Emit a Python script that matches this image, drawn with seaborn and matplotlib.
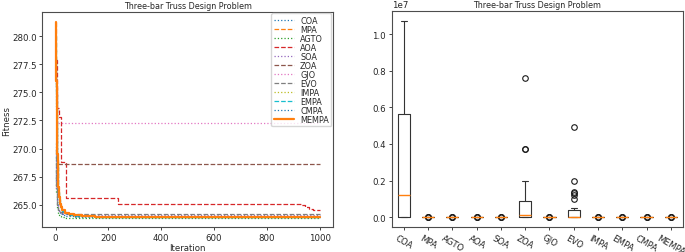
import numpy as np
import pandas as pd
import matplotlib
matplotlib.use("Agg")
import matplotlib.pyplot as plt
import seaborn as sns

# algorithm names (legend / box order)
algos = ["COA", "MPA", "AGTO", "AOA", "SOA", "ZOA", "GJO", "EVO",
         "IMPA", "EMPA", "CMPA", "MEMPA"]

# convergence curves (best fitness at given iterations)
it_fast = [0, 2, 4, 6, 8, 10, 13, 16, 20, 26, 35, 50, 70, 100, 150, 300, 1000]
coa_fit = [270.5, 267.0, 265.8, 265.2, 264.8, 264.6, 264.4, 264.3, 264.2, 264.1,
           264.02, 263.97, 263.94, 263.92, 263.91, 263.9, 263.9]
mpa_fit = [281.3, 275.5, 271.5, 269.0, 267.3, 266.4, 265.5, 265.0, 264.7, 264.45,
           264.25, 264.12, 264.03, 263.97, 263.93, 263.9, 263.89]
agto_fit = [268.0, 266.0, 265.2, 264.7, 264.4, 264.2, 264.05, 263.95, 263.9, 263.87,
            263.86, 263.86, 263.86, 263.86, 263.86, 263.86, 263.86]
soa_fit = [269.5, 266.5, 265.5, 265.0, 264.7, 264.55, 264.4, 264.32, 264.25, 264.2,
           264.17, 264.14, 264.12, 264.11, 264.1, 264.1, 264.1]
evo_fit = [270.0, 266.5, 265.4, 264.9, 264.7, 264.55, 264.45, 264.38, 264.32, 264.27,
           264.22, 264.18, 264.16, 264.15, 264.14, 264.14, 264.14]
impa_fit = [279.0, 274.0, 270.5, 268.5, 267.0, 266.1, 265.3, 264.9, 264.6, 264.4,
            264.22, 264.1, 264.02, 263.96, 263.92, 263.9, 263.89]
empa_fit = [280.0, 275.0, 271.0, 268.8, 267.2, 266.3, 265.4, 265.0, 264.65, 264.42,
            264.24, 264.11, 264.03, 263.97, 263.93, 263.9, 263.89]
cmpa_fit = [278.0, 273.5, 270.0, 268.2, 266.9, 266.0, 265.2, 264.85, 264.58, 264.38,
            264.2, 264.09, 264.01, 263.96, 263.92, 263.9, 263.89]
mempa_fit = [281.3, 276.0, 272.0, 269.5, 267.6, 266.6, 265.7, 265.1, 264.8, 264.5,
             264.3, 264.15, 264.05, 263.98, 263.93, 263.9, 263.88]

aoa_it = [0, 7, 14, 22, 40, 236, 930, 945, 960, 975, 1000]
aoa_fit = [277.9, 273.6, 272.8, 268.8, 265.6, 265.05, 264.95, 264.8, 264.65, 264.55, 264.5]
zoa_it = [0, 5, 1000]
zoa_fit = [272.0, 268.6, 268.6]
gjo_it = [0, 4, 1000]
gjo_fit = [275.0, 272.3, 272.3]

# final fitness of 30 runs per algorithm (box plot)
coa_runs = [263.9] * 12 + [3.0e5, 6.0e5, 1.0e6, 1.4e6, 2.0e6, 2.8e6, 3.5e6, 4.3e6,
                           5.0e6, 5.6e6, 5.65e6, 6.2e6, 6.9e6, 7.6e6, 8.3e6, 9.1e6,
                           9.9e6, 1.07e7]
zoa_runs = [264.5] * 10 + [2e4, 4e4, 6e4, 8e4, 9e4, 1.1e5, 2e5, 3e5, 5e5, 6.5e5, 7.5e5,
                           8.6e5, 9.2e5, 1.1e6, 1.4e6, 1.7e6, 1.95e6, 3.7e6, 3.72e6, 7.6e6]
evo_runs = [264.2] * 16 + [5e4, 1e5, 1.5e5, 2e5, 2.7e5, 3.3e5, 3.8e5, 5e5,
                           1.0e6, 1.2e6, 1.3e6, 1.4e6, 1.95e6, 4.9e6]
flat_runs = [263.9] * 27 + [264.3, 264.8, 265.5]

curves = [
    ("COA", it_fast, coa_fit, ":"), ("MPA", it_fast, mpa_fit, "--"),
    ("AGTO", it_fast, agto_fit, ":"), ("AOA", aoa_it, aoa_fit, "--"),
    ("SOA", it_fast, soa_fit, ":"), ("ZOA", zoa_it, zoa_fit, "--"),
    ("GJO", gjo_it, gjo_fit, ":"), ("EVO", it_fast, evo_fit, "--"),
    ("IMPA", it_fast, impa_fit, ":"), ("EMPA", it_fast, empa_fit, "--"),
    ("CMPA", it_fast, cmpa_fit, ":"), ("MEMPA", it_fast, mempa_fit, "-"),
]

runs = {a: flat_runs for a in algos}
runs["COA"] = coa_runs
runs["ZOA"] = zoa_runs
runs["EVO"] = evo_runs
box_df = pd.DataFrame([(a, v) for a in algos for v in runs[a]], columns=["alg", "fit"])

sns.set_theme(style="ticks", rc={
    "font.size": 6.2, "axes.titlesize": 5.8, "axes.labelsize": 6.2,
    "xtick.labelsize": 6.2, "ytick.labelsize": 6.2, "legend.fontsize": 5.9,
    "axes.edgecolor": "0.3", "axes.linewidth": 0.8,
    "xtick.major.size": 2.5, "ytick.major.size": 2.5,
    "xtick.major.width": 0.6, "ytick.major.width": 0.6,
})
plt.rcParams["font.family"] = ["DejaVu Sans"]

fig = plt.figure(figsize=(6.85, 2.53), dpi=100)
ax1 = fig.add_axes([0.0618, 0.0976, 0.4242, 0.852])
ax2 = fig.add_axes([0.5718, 0.0988, 0.4252, 0.852])

colors = sns.color_palette("tab10")
for i, (name, xs, ys, ls) in enumerate(curves):
    lw = 1.6 if name == "MEMPA" else 0.9
    sns.lineplot(x=xs, y=ys, ax=ax1, color=colors[i % 10], linestyle=ls, linewidth=lw,
                 label=name, drawstyle="steps-post", estimator=None, sort=False)

ax1.set_title("Three-bar Truss Design Problem", pad=3)
ax1.set_xlabel("Iteration", labelpad=1)
ax1.set_ylabel("Fitness", labelpad=1)
ax1.set_xticks([0, 200, 400, 600, 800, 1000])
ax1.set_yticks([265.0, 267.5, 270.0, 272.5, 275.0, 277.5, 280.0])
ax1.tick_params(pad=1.5)
ax1.legend(loc="upper right", labelspacing=0.0, handlelength=2.4, handletextpad=0.8,
           borderpad=0.3, borderaxespad=0.2, frameon=True, fancybox=True)

sns.boxplot(data=box_df, x="alg", y="fit", order=algos, ax=ax2, width=0.5, fill=False,
            color="0.2", linewidth=0.8,
            medianprops=dict(color="tab:orange", linewidth=1.0),
            flierprops=dict(marker="o", markersize=4, markerfacecolor="none",
                            markeredgecolor="0.1", markeredgewidth=0.8))
ax2.set_title("Three-bar Truss Design Problem", pad=3)
ax2.set_xlabel("")
ax2.set_ylabel("")
ax2.set_ylim(-0.0535e7, 1.1235e7)
ax2.tick_params(pad=1.5)
ax2.tick_params(axis="x", rotation=-30)
ax2.yaxis.get_offset_text().set_fontsize(6.2)

fig.savefig("out.png", dpi=100)
